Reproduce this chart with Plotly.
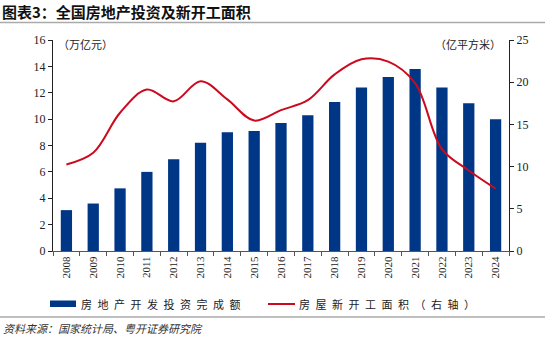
import plotly.graph_objects as go

years = [str(y) for y in range(2008, 2025)]
investment = [3.1, 3.6, 4.75, 6.0, 6.95, 8.2, 9.0, 9.1, 9.7, 10.3, 11.3, 12.4, 13.2, 13.8, 12.4, 11.2, 10.0]
new_starts = [10.26, 11.64, 16.38, 19.13, 17.73, 20.12, 17.96, 15.45, 16.69, 17.87, 20.93, 22.72, 22.44, 19.89, 12.06, 9.54, 7.39]
left_ticks = [0, 2, 4, 6, 8, 10, 12, 14, 16]
right_ticks = [0, 5, 10, 15, 20, 25]

BLUE = "#003686"
RED = "#CC0a1e"
CJK = "Noto Sans CJK SC"
SERIF = "Liberation Serif"

fig = go.Figure()
fig.add_trace(go.Bar(x=years, y=investment, name="房地产开发投资完成额",
                     marker=dict(color=BLUE, line=dict(width=0)), yaxis="y"))
fig.add_trace(go.Scatter(x=years, y=new_starts, name="房屋新开工面积（右轴）",
                         mode="lines", line=dict(color=RED, width=2, shape="spline", smoothing=1.0),
                         yaxis="y2"))

fig.update_layout(
    width=550, height=341,
    margin=dict(l=53, r=41, t=40, b=90),
    paper_bgcolor="white", plot_bgcolor="white",
    showlegend=False,
    bargap=0.58,
    xaxis=dict(type="category", showline=True, linecolor="#555", linewidth=1,
               ticks="outside", tickson="boundaries", ticklen=4, tickcolor="#555",
               tickangle=-90, tickfont=dict(family=SERIF, size=11, color="#222"),
               showgrid=False, zeroline=False),
    yaxis=dict(range=[0, 16], tickvals=left_ticks, showline=True, linecolor="#222", linewidth=1.2,
               ticks="outside", ticklen=4, tickcolor="#222",
               tickfont=dict(family=SERIF, size=12, color="#222"),
               showgrid=False, zeroline=False),
    yaxis2=dict(range=[0, 25], tickvals=right_ticks, overlaying="y", side="right",
                showline=True, linecolor="#222", linewidth=1.2,
                ticks="outside", ticklen=4, tickcolor="#222",
                tickfont=dict(family=SERIF, size=12, color="#222"),
                showgrid=False, zeroline=False),
)


def px_x(px):
    return (px - 53) / (550 - 53 - 41)


def px_y(py):
    return (341 - 90 - py) / (341 - 40 - 90)


def add_text(text, x, y, size, anchor="left", color="#222", family=CJK, italic=False):
    fig.add_annotation(text=text, x=px_x(x), y=px_y(y), xref="paper", yref="paper",
                       xanchor=anchor, yanchor="middle", showarrow=False,
                       font=dict(family=family, size=size, color=color,
                                 style="italic" if italic else "normal"))


def spaced(s):
    return "\u2002".join(s)


add_text("<b>图表3：全国房地产投资及新开工面积</b>", 0, 12, 15, color="#111")
add_text("（万亿元）", 56, 44, 11)
add_text("（亿平方米）", 503, 44, 11, anchor="right")
add_text(spaced("房地产开发投资完成额"), 79, 304, 11)
add_text(spaced("房屋新开工面积（右轴）"), 297, 304, 11)
add_text("资料来源：国家统计局、粤开证券研究院", 1, 328, 11, italic=True, color="#333")

# title and footer rules
fig.add_shape(type="line", xref="paper", yref="paper", x0=px_x(0), x1=px_x(545), y0=px_y(22.5), y1=px_y(22.5),
              line=dict(color="#aaa", width=1.5))
fig.add_shape(type="line", xref="paper", yref="paper", x0=px_x(0), x1=px_x(545), y0=px_y(317), y1=px_y(317),
              line=dict(color="#aaa", width=1.5))
# legend symbols
fig.add_shape(type="rect", xref="paper", yref="paper", x0=px_x(50), x1=px_x(76), y0=px_y(307), y1=px_y(300.5),
              fillcolor=BLUE, line=dict(width=0))
fig.add_shape(type="line", xref="paper", yref="paper", x0=px_x(268), x1=px_x(295), y0=px_y(304), y1=px_y(304),
              line=dict(color=RED, width=2))

fig.write_html("out.html")
